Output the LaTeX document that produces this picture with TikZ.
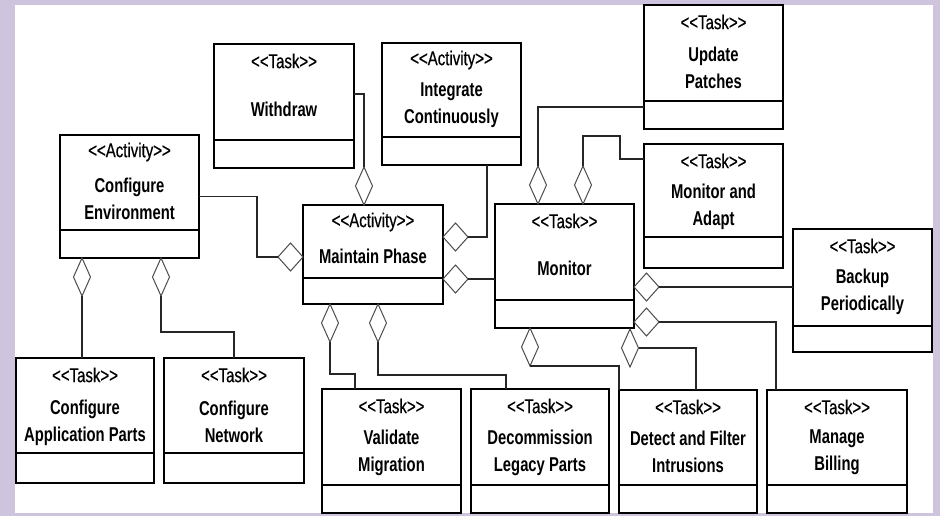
\documentclass[tikz,border=0pt]{standalone}
\usepackage{fontspec}
\setmainfont{Liberation Sans}
\newfontfamily\stfont{Liberation Sans}[FakeStretch=0.75,FakeBold=0.4]
\newfontfamily\nmfont{Liberation Sans}[FakeStretch=0.74]
\usetikzlibrary{shapes.geometric}

\definecolor{frame}{RGB}{207,196,222}

\tikzset{
  classbox/.style={draw=black, line width=2.4pt, rectangle, inner sep=0pt, outer sep=0pt},
  divider/.style={line width=2.4pt},
  stereo/.style={font=\stfont\fontsize{20}{22}\selectfont, inner sep=0pt},
  cname/.style={font=\nmfont\bfseries\fontsize{20}{27}\selectfont, align=center, inner sep=0pt},
  link/.style={draw=black!85, line width=1.2pt},
  agg/.style={diamond, draw=black!70, fill=white, line width=1pt, inner sep=0pt, outer sep=0pt},
  vdia/.style={agg, minimum width=17pt, minimum height=38pt},
  hdia/.style={agg, minimum width=25pt, minimum height=28pt},
}

% #1 id, #2 left, #3 top, #4 right, #5 divider, #6 bottom,
% #7 stereotype, #8 class name, #9 vertical centre of the name
\newcommand\umlclass[9]{%
  \node[classbox, anchor=north west, minimum width={(#4-#2)*1pt},
        minimum height={(#6-#3)*1pt}] (#1) at (#2,#3) {};
  \draw[divider] (#2,#5) -- (#4,#5);
  \node[stereo] (#1-st) at ({(#2+#4)/2},{#3+17}) {<<#7>>};
  \node[cname] (#1-nm) at ({(#2+#4)/2},#9) {#8};
}

\begin{document}
\begin{tikzpicture}[x=1pt,y=-1pt]
  \useasboundingbox (0,0) rectangle (940,516);
  \fill[frame] (0,0) rectangle (940,516);
  \fill[white] (15,5) rectangle (933,513);

  % classes
  \umlclass{ce}{60}{135}{199}{230}{258}{Activity}{Configure\\Environment}{199}
  \umlclass{wd}{214}{44}{354}{140}{168}{Task}{Withdraw}{109}
  \umlclass{ic}{382}{43}{521}{137}{165}{Activity}{Integrate\\Continuously}{105}
  \umlclass{up}{644}{5}{783}{101}{129}{Task}{Update\\Patches}{68}
  \umlclass{ma}{644}{144}{783}{237}{268}{Task}{Monitor and\\Adapt}{207}
  \umlclass{bk}{793}{229}{932}{326}{352}{Task}{Backup\\Periodically}{292}
  \umlclass{mp}{303}{205}{443}{278}{304}{Activity}{Maintain Phase}{256}
  \umlclass{mon}{495}{204}{634}{300}{328}{Task}{Monitor}{268}
  \umlclass{cap}{16}{358}{154}{453}{483}{Task}{Configure\\Application Parts}{423}
  \umlclass{cn}{164}{358}{304}{453}{483}{Task}{Configure\\Network}{422}
  \umlclass{vm}{322}{389}{461}{485}{513}{Task}{Validate\\Migration}{453}
  \umlclass{dlp}{471}{389}{609}{485}{513}{Task}{Decommission\\Legacy Parts}{453}
  \umlclass{dfi}{619}{390}{757}{485}{513}{Task}{Detect and Filter\\Intrusions}{452}
  \umlclass{mb}{767}{390}{907}{485}{513}{Task}{Manage\\Billing}{452}

  % aggregation diamonds on the whole side
  \node[hdia, anchor=east]  (dA) at (303,257) {};
  \node[vdia, anchor=south] (dB) at (364,205) {};
  \node[hdia, anchor=west]  (dC) at (443,237) {};
  \node[hdia, anchor=west]  (dD) at (443,279) {};
  \node[vdia, anchor=south] (dE) at (538,204) {};
  \node[vdia, anchor=south] (dF) at (583,204) {};
  \node[hdia, anchor=west]  (dG) at (634,287) {};
  \node[hdia, anchor=west]  (dH) at (634,322) {};
  \node[vdia, anchor=north] (dI) at (630,329) {};
  \node[vdia, anchor=north] (dJ) at (530,328) {};
  \node[vdia, anchor=north] (dK) at (82,258) {};
  \node[vdia, anchor=north] (dL) at (161,258) {};
  \node[vdia, anchor=north] (dM) at (330,304) {};
  \node[vdia, anchor=north] (dN) at (378,304) {};

  % links from parts to their diamonds
  \draw[link] (ce.east) -- ++(58,0) |- (dA.west);
  \draw[link] ([yshift=12pt]wd.east) -| (dB.north);
  \draw[link] ([xshift=35.5pt]ic.south) |- (dC.east);
  \draw[link] (dD.east) -- (dD.east -| mon.west);
  \draw[link] ([yshift=-40pt]up.west) -| (dE.north);
  \draw[link] (dF.north) |- (620,136) |- ([yshift=47pt]ma.west);
  \draw[link] (dG.east) -- (dG.east -| bk.west);
  \draw[link] (dH.east) -| ([xshift=-61pt]mb.north);
  \draw[link] (dI.east) -| ([xshift=8pt]dfi.north);
  \draw[link] (dJ.south) -| (dfi.north west);
  \draw[link] (dK.south) -- (dK.south |- cap.north);
  \draw[link] (dL.south) |- ([yshift=26pt]cn.north) -- (cn.north);
  \draw[link] (dM.south) |- ([xshift=-36.5pt,yshift=15pt]vm.north) -- ([xshift=-36.5pt]vm.north);
  \draw[link] (dN.south) |- ([xshift=-34pt,yshift=14pt]dlp.north) -- ([xshift=-34pt]dlp.north);
\end{tikzpicture}
\end{document}
